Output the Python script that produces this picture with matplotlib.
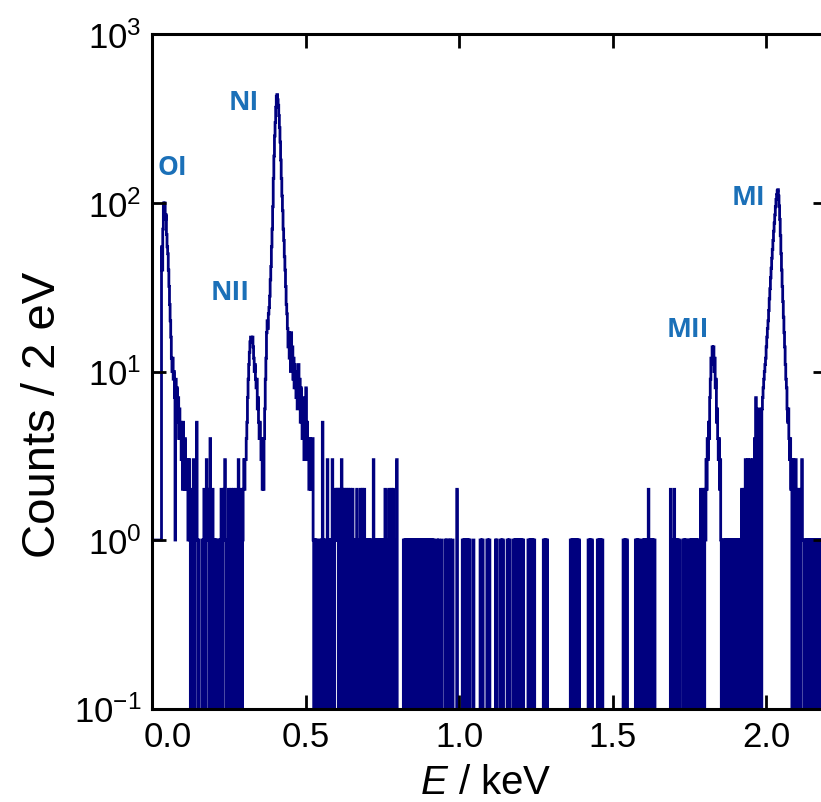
import numpy as np
import matplotlib
matplotlib.use('Agg')
import matplotlib.pyplot as plt
from matplotlib.ticker import FixedLocator, FixedFormatter, NullLocator
from matplotlib.transforms import ScaledTranslation

plt.rcParams['font.family'] = ['Liberation Sans', 'DejaVu Sans']
plt.rcParams['mathtext.fontset'] = 'custom'
plt.rcParams['mathtext.rm'] = 'Liberation Sans'
plt.rcParams['mathtext.it'] = 'Liberation Sans:italic'
plt.rcParams['path.simplify'] = False

bin_ev = 2
e_max_ev = 2200

# counts per 2 eV bin in the peak regions, first bin at *_start_ev
oi_start_ev = 0
oi_counts = [1, 1, 1, 1, 1, 1, 1, 1, 1, 1, 1, 1, 1, 1, 1,
             55, 40, 70, 100, 90, 100, 80, 85, 65, 55, 50, 40, 32, 25, 20,
             16, 12, 10, 12, 9, 10, 7, 1, 9, 6, 8, 5, 7, 4, 6, 4, 5, 3, 4,
             2, 5, 3, 2, 4, 2, 3, 2, 3, 1, 2, 3]
n_start_ev = 296
n_counts = [2, 3, 2, 3, 3, 4, 5, 7, 9, 11, 13, 15, 16, 16, 15, 16, 14, 12,
            10, 11, 9, 8, 9, 6, 7, 5, 4, 5, 4, 3, 4, 2, 3, 2, 4, 6, 9, 12,
            17, 20, 18, 22, 24, 28, 35, 42, 55, 70, 95, 140, 190, 250, 300,
            370, 430, 440, 410, 380, 330, 280, 230, 180, 140, 110, 90, 70,
            60, 48, 40, 32, 25, 22, 18, 14, 17, 12, 15, 10, 17, 11, 14, 9,
            12, 8, 11, 10, 7, 9, 6, 8, 11, 7, 9, 5, 8, 6, 4, 7, 5, 3, 6, 4,
            8, 3, 5, 3, 4, 2, 4, 3, 2, 3, 2, 4]
mii_start_ev = 1786
mii_counts = [2, 1, 0, 0, 2, 1, 0, 2, 1, 3, 2, 4, 3, 5, 4, 7, 9, 12, 11,
              14, 13, 14, 10, 12, 8, 9, 5, 6, 4, 3, 4, 2, 3, 1]
mi_start_ev = 1936
mi_counts = [2, 0, 3, 2, 0, 2, 3, 0, 2, 0, 3, 2, 0, 4, 3, 7, 4, 0, 5, 4,
             6, 0, 5, 4, 0, 6, 7, 8, 9, 10, 11, 12, 14, 16, 18, 20, 23, 27,
             31, 36, 41, 47, 53, 60, 68, 76, 85, 95, 105, 112, 118, 120, 110,
             96, 80, 64, 50, 40, 32, 26, 21, 17, 14, 11, 9, 8, 6, 5, 6, 4, 3,
             4, 2, 3, 0, 2, 3, 0, 2, 0, 3, 1, 0, 2, 0, 1, 0, 2, 0, 1, 3, 1,
             1, 1]

# isolated background bins (bin start in eV) by count
ones_ev = [122, 126, 130, 138, 142, 146, 150,
           162, 166, 170, 174, 178, 182, 186, 190, 194, 198, 202, 206, 210,
           218, 222, 226, 230, 234, 238, 242, 246, 250, 254, 258, 262, 266,
           270, 274, 278, 282, 286, 290, 294,
           524, 528, 532, 536, 546, 550, 558, 562,
           574, 578, 582, 590, 594, 598, 602,
           618, 622, 626, 630, 634, 638, 642, 646, 650, 654, 658, 662, 666,
           670, 674, 678, 682, 686, 690, 694, 698, 702, 706, 710, 714,
           722, 726, 730, 734, 738, 742, 746, 750, 754, 758, 762, 766, 770,
           774, 778, 782, 786, 790, 794,
           818, 822, 826, 830, 834, 838, 842, 846, 850, 854, 858, 862, 866,
           870, 874, 878, 882, 886, 890, 894, 898, 902, 906, 910, 914, 918,
           928, 932, 942, 954, 958, 966, 970, 978,
           1010, 1014, 1018, 1022, 1026, 1030, 1034, 1046, 1068, 1072, 1076,
           1090, 1094, 1098, 1118, 1122, 1134, 1138, 1142, 1156, 1160, 1164,
           1176, 1180, 1184, 1188, 1192, 1196, 1200, 1204, 1208,
           1224, 1228, 1232, 1236, 1240, 1244, 1274, 1278, 1282, 1286,
           1362, 1366, 1370, 1374, 1378, 1382, 1386, 1390,
           1420, 1424, 1428, 1432, 1450, 1454, 1458, 1462, 1466,
           1534, 1538, 1542, 1546, 1574, 1578, 1582, 1586,
           1596, 1600, 1604, 1608, 1612, 1620, 1624, 1628, 1632, 1636,
           1692, 1696, 1704, 1708, 1712, 1716, 1728, 1732, 1736, 1740,
           1748, 1752, 1756, 1760, 1764, 1768, 1772, 1776, 1780,
           1858, 1862, 1866, 1870, 1874, 1878, 1882, 1886, 1890, 1894, 1898,
           1902, 1906, 1910, 1914, 1918, 1922, 1926, 1930,
           2126, 2130, 2134, 2138, 2142, 2146, 2150, 2154, 2158, 2162, 2166,
           2170, 2174, 2178, 2182, 2186, 2190, 2194, 2198]
twos_ev = [128, 140, 168, 180, 196, 224, 232, 248, 256, 264, 272, 288,
           596, 600, 604, 608, 612, 620, 626, 632, 638, 644, 652, 666, 678,
           684, 690, 758, 770, 778, 784, 992, 1616, 1688, 1700, 1920, 1928]
threes_ev = [134, 176, 236, 280, 570, 586, 616, 720, 796, 1932]
fours_ev = [188]
fives_ev = [144, 554]

peak_names = ['OI', 'NI', 'NII', 'MII', 'MI']
peak_label_kev = [0.064, 0.299, 0.253, 1.746, 1.944]
peak_label_counts = [164, 400, 29.8, 17.9, 109]

counts = np.zeros(e_max_ev // bin_ev)
for level, evs in [(1, ones_ev), (2, twos_ev), (3, threes_ev),
                   (4, fours_ev), (5, fives_ev)]:
    counts[np.array(evs) // bin_ev] = level
for start, vals in [(oi_start_ev, oi_counts), (n_start_ev, n_counts),
                    (mii_start_ev, mii_counts), (mi_start_ev, mi_counts)]:
    i = start // bin_ev
    counts[i:i + len(vals)] = vals
edges = np.arange(len(counts) + 1) * bin_ev / 1000.0

fig = plt.figure(figsize=(8.21, 8.03), dpi=100)
ax = fig.add_axes([0.1855, 0.1164, 0.8224, 0.8394])
ax.set_yscale('log')
ax.stairs(counts, edges, color='#00007f', lw=2.0)

ax.set_xlim(0, 2.2)
ax.set_ylim(0.1, 1000)

for name, xk, yc in zip(peak_names, peak_label_kev, peak_label_counts):
    ax.text(xk, yc, name, color='#1b70b8', fontsize=19, fontweight='bold',
            family='Open Sans', ha='center', va='center')

ax.xaxis.set_major_locator(FixedLocator([0, 0.5, 1.0, 1.5, 2.0]))
ax.xaxis.set_major_formatter(FixedFormatter(['0.0', '0.5', '1.0', '1.5', '2.0']))
ax.xaxis.set_minor_locator(NullLocator())
ax.yaxis.set_major_locator(FixedLocator([0.1, 1, 10, 100, 1000]))
ax.yaxis.set_major_formatter(FixedFormatter(
    [r'$10^{-1}$', r'$10^{0}$', r'$10^{1}$', r'$10^{2}$', r'$10^{3}$']))
ax.yaxis.set_minor_locator(NullLocator())

for s in ax.spines.values():
    s.set_linewidth(2.2)
ax.tick_params(which='major', direction='in', length=10, width=2,
               top=True, right=True, labelsize=25, pad=8)

ax.set_ylabel('Counts / 2 eV', fontsize=34)
ax.yaxis.set_label_coords(-0.129, 0.437)
ax.set_xlabel(r'$\mathit{E}$ / keV', fontsize=29)
ax.xaxis.set_label_coords(0.4935, -0.081)

# the 0.0 label sits a little right of its tick in the original
lab0 = ax.xaxis.get_major_ticks()[0].label1
lab0.set_transform(lab0.get_transform() + ScaledTranslation(0.15, 0, fig.dpi_scale_trans))

fig.savefig('out.png', dpi=100)
